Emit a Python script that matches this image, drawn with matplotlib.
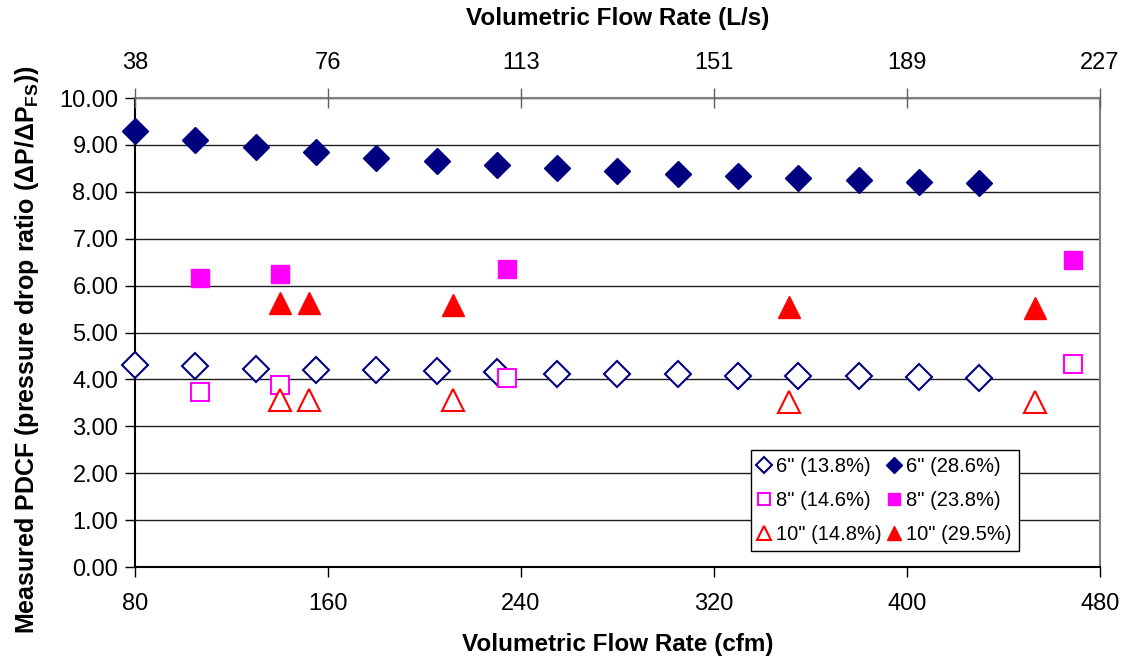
import matplotlib
matplotlib.use('Agg')
import matplotlib.pyplot as plt

plt.rcParams['font.family'] = ['Liberation Sans', 'DejaVu Sans']
plt.rcParams['mathtext.fontset'] = 'custom'
plt.rcParams['mathtext.bf'] = 'Liberation Sans:bold'
plt.rcParams['mathtext.rm'] = 'Liberation Sans'

# Daten (cfm vs. PDCF)
flow_6 = [80, 105, 130, 155, 180, 205, 230, 255, 280, 305, 330, 355, 380, 405, 430]
pdcf_6_low = [4.30, 4.28, 4.23, 4.20, 4.20, 4.17, 4.15, 4.12, 4.12, 4.12, 4.08, 4.07, 4.07, 4.06, 4.03]
pdcf_6_high = [9.30, 9.10, 8.95, 8.85, 8.73, 8.65, 8.57, 8.50, 8.45, 8.38, 8.33, 8.30, 8.26, 8.22, 8.19]

flow_8 = [107, 140, 234, 469]
pdcf_8_low = [3.73, 3.88, 4.03, 4.33]
pdcf_8_high = [6.17, 6.25, 6.35, 6.55]

flow_10 = [140, 152, 212, 351, 453]
pdcf_10_low = [3.57, 3.57, 3.57, 3.52, 3.52]
pdcf_10_high = [5.62, 5.62, 5.58, 5.55, 5.52]

cfm_ticks = [80, 160, 240, 320, 400, 480]
ls_labels = ['38', '76', '113', '151', '189', '227']
y_ticks = [0, 1, 2, 3, 4, 5, 6, 7, 8, 9, 10]

navy = '#000080'
magenta = '#FF00FF'
red = '#FF0000'

fig = plt.figure(figsize=(11.22, 6.61), dpi=100)
ax = fig.add_axes([0.1203, 0.1422, 0.8601, 0.7095])

# Punkte plotten
kw = dict(ls='none', clip_on=False, zorder=3)
ax.plot(flow_6, pdcf_6_low, 'D', ms=13, mfc='white', mec=navy, mew=1.5, label='6" (13.8%)', **kw)
ax.plot(flow_8, pdcf_8_low, 's', ms=13.5, mfc='white', mec=magenta, mew=1.5, label='8" (14.6%)', **kw)
ax.plot(flow_10, pdcf_10_low, '^', ms=16, mfc='white', mec=red, mew=1.5, label='10" (14.8%)', **kw)
ax.plot(flow_6, pdcf_6_high, 'D', ms=13, color=navy, label='6" (28.6%)', **kw)
ax.plot(flow_8, pdcf_8_high, 's', ms=13.5, color=magenta, label='8" (23.8%)', **kw)
ax.plot(flow_10, pdcf_10_high, '^', ms=16, color=red, label='10" (29.5%)', **kw)

ax.set_xlim(80, 480)
ax.set_ylim(0, 10)
ax.set_xticks(cfm_ticks)
ax.set_yticks(y_ticks)
ax.set_yticklabels([f'{v:.2f}' for v in y_ticks])
ax.tick_params(axis='both', labelsize=17, length=7, width=1, direction='out')
ax.tick_params(axis='x', pad=12)
ax.tick_params(axis='y', pad=5)
ax.grid(axis='y', color='#202020', lw=1)
ax.set_axisbelow(True)
for s in ['top', 'right']:
    ax.spines[s].set_color('#808080')
    ax.spines[s].set_linewidth(1.5)
for s in ['left', 'bottom']:
    ax.spines[s].set_color('black')
    ax.spines[s].set_linewidth(1.5)

ax.set_xlabel('Volumetric Flow Rate (cfm)', fontsize=17.5, fontweight='bold', va='center')
ax.xaxis.set_label_coords(0.5, -0.166)
ax.set_ylabel(r'Measured PDCF (pressure drop ratio ($\mathbf{\Delta}$P/$\mathbf{\Delta}$P$_{\mathbf{FS}}$))',
              fontsize=18, fontweight='bold', va='center')
ax.yaxis.set_label_coords(-0.112, 0.463)

# obere Achse in L/s
ax2 = ax.twiny()
ax2.set_xlim(ax.get_xlim())
ax2.set_xticks(cfm_ticks)
ax2.set_xticklabels(ls_labels)
ax2.tick_params(axis='x', labelsize=17, length=14, width=1, direction='inout', pad=10, color='#606060')
ax2.set_xlabel('Volumetric Flow Rate (L/s)', fontsize=17.5, fontweight='bold', va='center')
ax2.xaxis.set_label_coords(0.5, 1.17)
for s in ax2.spines.values():
    s.set_visible(False)

leg = ax.legend(ncol=2, loc='lower left', bbox_to_anchor=(751 / 1122, 1 - 551 / 661), bbox_transform=fig.transFigure,
                fontsize=14.5, frameon=True, fancybox=False, edgecolor='black', framealpha=1,
                handlelength=0.6, handletextpad=0.3, columnspacing=0.3, labelspacing=0.75, borderpad=0.35,
                markerscale=0.6, borderaxespad=0)
leg.get_frame().set_linewidth(1)

fig.savefig('out.png', dpi=100)
